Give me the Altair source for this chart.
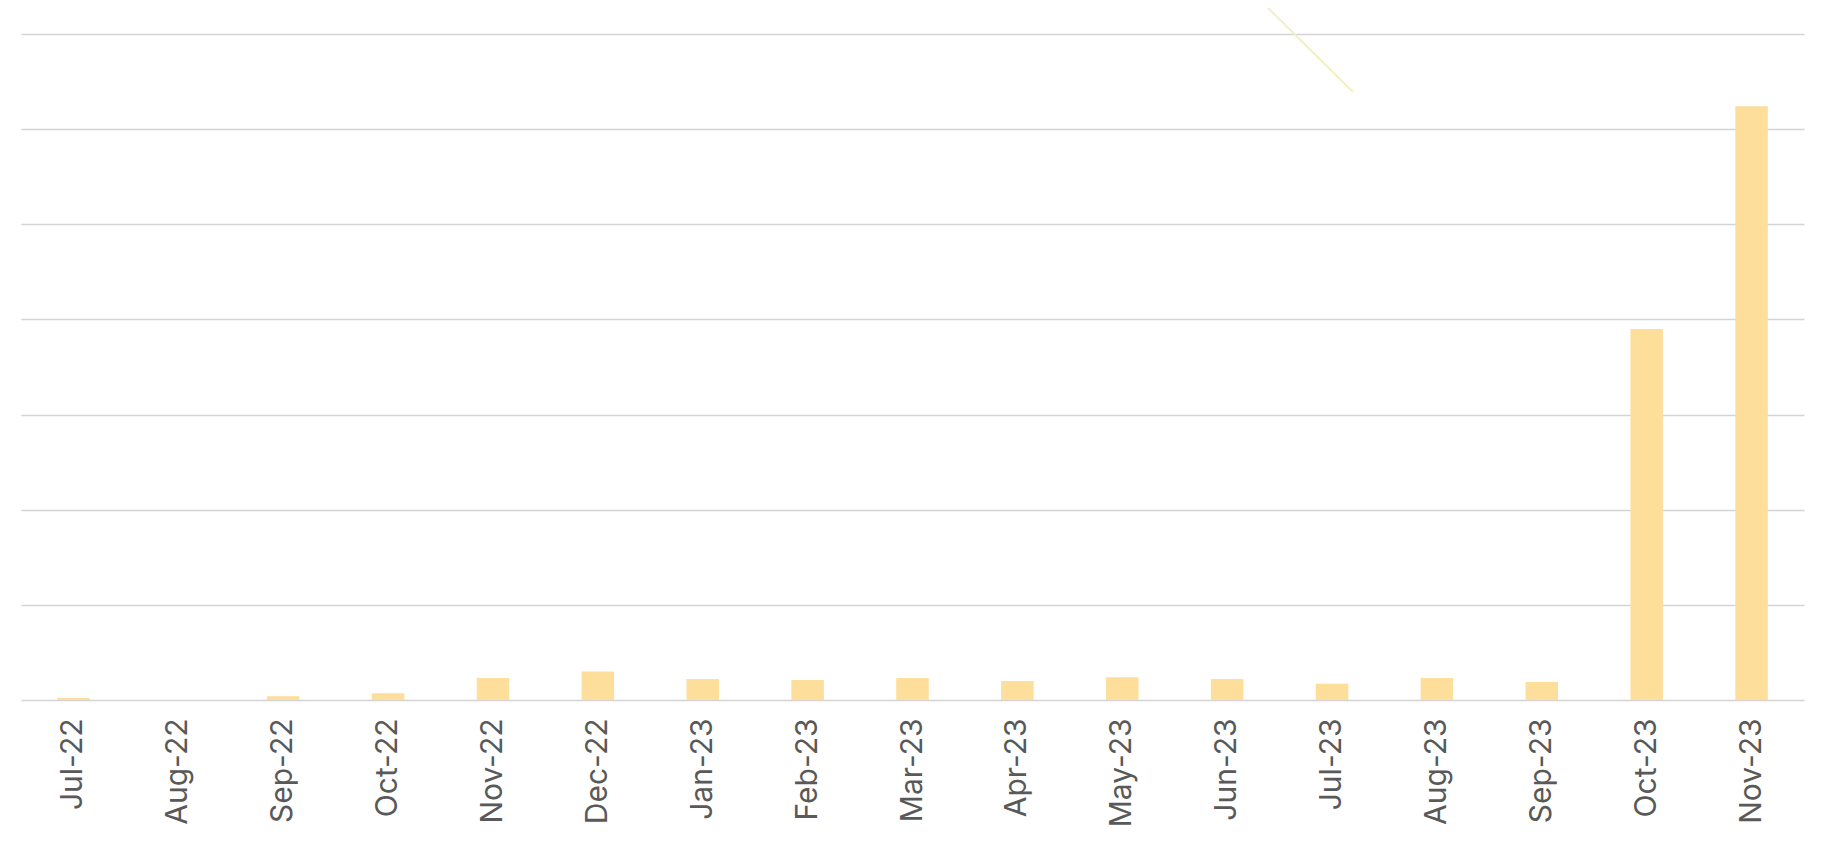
import altair as alt
import pandas as pd

months = ["Jul-22", "Aug-22", "Sep-22", "Oct-22", "Nov-22", "Dec-22", "Jan-23", "Feb-23",
          "Mar-23", "Apr-23", "May-23", "Jun-23", "Jul-23", "Aug-23", "Sep-23", "Oct-23", "Nov-23"]
values = [2, 0, 4, 7, 23, 30, 22, 21, 23, 20, 24, 22, 17, 23, 19, 390, 624]

line_months = ["Jun-23", "Jul-23"]
line_values = [748, 639]

grid_values = [0, 100, 200, 300, 400, 500, 600, 700]

bars_df = pd.DataFrame({"month": months, "value": values})
line_df = pd.DataFrame({"month": line_months, "value": line_values})

x_scale = alt.Scale(domain=months, paddingInner=0.69, paddingOuter=0.345)
y_scale = alt.Scale(domain=[0, 700], nice=False, clamp=False)

bars = alt.Chart(bars_df).mark_bar(color="#FDDE9A").encode(
    x=alt.X("month:N", scale=x_scale, sort=months,
            axis=alt.Axis(title=None, labelAngle=-90, labelFontSize=30, labelFont="Inter",
                          labelColor="#595959", labelPadding=18, domain=False, ticks=False,
                          labelAlign="right", labelBaseline="middle")),
    y=alt.Y("value:Q", scale=y_scale,
            axis=alt.Axis(title=None, values=grid_values, labels=False, ticks=False, domain=False,
                          grid=True, gridColor="#D4D4D4", gridWidth=1.5)),
)

line = alt.Chart(line_df).mark_line(color="#F3EFC4", strokeWidth=2, clip=False, xOffset=21).encode(
    x=alt.X("month:N", scale=x_scale, sort=months),
    y=alt.Y("value:Q", scale=y_scale),
)

chart = alt.layer(bars, line).properties(
    width=1783, height=666,
    background="white",
    autosize=alt.AutoSizeParams(type="none"),
    padding={"left": 13, "top": 26, "right": 14, "bottom": 130},
).configure_view(strokeWidth=0, stroke=None)

chart.save("out.html", embed_options={"renderer": "svg", "actions": False})
